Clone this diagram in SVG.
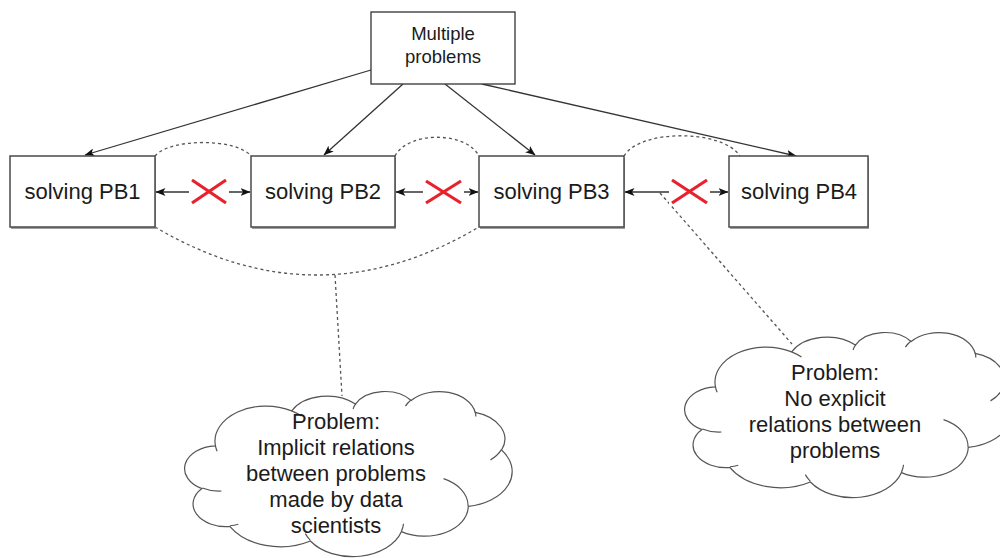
<svg xmlns="http://www.w3.org/2000/svg" width="1000" height="558" viewBox="0 0 1000 558">
  <style>
    .box{fill:#fff;stroke:#4a4a4a;stroke-width:1.5}
    .top{fill:#fff;stroke:#333;stroke-width:1.3}
    .shadow{fill:#a0a0a0}
    .lbl{font-family:"Liberation Sans",Arial,sans-serif;fill:#1b1b1b;text-anchor:middle}
    .edge{fill:none;stroke:#333;stroke-width:1.3}
    .dash{fill:none;stroke:#555;stroke-width:1.3;stroke-dasharray:3 3}
    .cross{stroke:#e8222c;stroke-width:3.2}
  </style>
  <defs>
    <marker id="arrow" viewBox="0 0 10 8" refX="9.5" refY="4" markerWidth="10" markerHeight="8" markerUnits="userSpaceOnUse" orient="auto-start-reverse">
      <path d="M0,0 L10,4 L0,8 L2.5,4 Z" fill="#111"/>
    </marker>
    <!-- cloud outline (326 x 166 box) with its inner curls -->
    <g id="cloud">
      <path fill="#fff" stroke="#555" stroke-width="1.2" d="M29.43,54.88 A50.96,35.10 0 0 1 105.69,19.87 A40.24,27.76 0 0 1 169.46,13.11 A32.94,22.71 0 0 1 225.13,9.48 A36.65,25.19 0 0 1 289.16,21.30 A40.24,27.78 0 0 1 315.57,59.05 A51.13,35.21 0 0 1 282.26,115.36 A43.66,30.05 0 0 1 215.49,140.61 A50.95,35.20 0 0 1 124.37,149.97 A58.26,40.27 0 0 1 43.80,135.48 A32.90,22.60 0 0 1 15.94,97.59 A32.79,22.71 0 0 1 29.43,54.88 Z"/>
      <path fill="none" stroke="#555" stroke-width="1.2" d="M35.42,99.98 A32.79,22.71 0 0 1 16.30,96.94 M52.28,133.29 A32.90,22.60 0 0 1 43.92,134.75 M124.35,149.30 A50.95,35.20 0 0 1 119.31,142.65 M217.54,132.73 A50.95,35.20 0 0 1 215.53,140.02 M257.55,87.67 A43.66,30.05 0 0 1 282.08,114.92 M315.42,58.64 A40.24,27.78 0 0 1 304.49,68.86 M289.20,20.72 A36.65,25.19 0 0 1 289.78,25.55 M219.43,15.09 A36.65,25.19 0 0 1 225.03,8.93 M167.08,18.03 A32.94,22.71 0 0 1 169.79,12.72 M105.65,19.83 A50.96,35.10 0 0 1 115.46,24.98 M31.14,60.30 A50.96,35.10 0 0 1 29.43,54.89"/>
    </g>
  </defs>

  <!-- connectors -->
  <g id="connectors">
    <line class="edge" x1="371" y1="70" x2="85" y2="155" marker-end="url(#arrow)"/>
    <line class="edge" x1="403" y1="84" x2="324" y2="155" marker-end="url(#arrow)"/>
    <line class="edge" x1="445" y1="84" x2="535" y2="155" marker-end="url(#arrow)"/>
    <line class="edge" x1="482" y1="84" x2="796" y2="156" marker-end="url(#arrow)"/>

    <line class="edge" x1="156" y1="192" x2="250" y2="192" marker-start="url(#arrow)" marker-end="url(#arrow)"/>
    <line class="edge" x1="396" y1="192" x2="478" y2="192" marker-start="url(#arrow)" marker-end="url(#arrow)"/>
    <line class="edge" x1="625" y1="192" x2="728" y2="192" marker-start="url(#arrow)" marker-end="url(#arrow)"/>

    <path class="dash" d="M155,156 C170,138 236,138 251,156"/>
    <path class="dash" d="M395,156 C408,131 466,131 479,156"/>
    <path class="dash" d="M624,156 C640,129 722,129 740,156"/>
    <path class="dash" d="M155,227 Q317,323 479,227"/>
    <path class="dash" d="M335,275 L342,396"/>
    <path class="dash" d="M660,193 L792,344"/>
  </g>

  <!-- "no relation" crosses -->
  <g id="crosses">
    <rect x="189" y="179" width="40" height="26" fill="#fff"/>
    <line class="cross" x1="192" y1="180" x2="226" y2="203"/>
    <line class="cross" x1="192" y1="203" x2="226" y2="180"/>
    <rect x="423" y="179" width="41" height="26" fill="#fff"/>
    <line class="cross" x1="426" y1="181" x2="461" y2="203"/>
    <line class="cross" x1="426" y1="203" x2="461" y2="181"/>
    <rect x="669" y="179" width="41" height="26" fill="#fff"/>
    <line class="cross" x1="672" y1="180" x2="707" y2="203"/>
    <line class="cross" x1="672" y1="203" x2="707" y2="180"/>
  </g>

  <g id="multiple-problems">
    <rect class="top" x="371" y="12" width="144" height="72"/>
    <text class="lbl" x="443" y="40" font-size="18.5">Multiple</text>
    <text class="lbl" x="443" y="63" font-size="18.5">problems</text>
  </g>

  <g id="pb1">
    <rect class="shadow" x="11" y="158" width="145" height="71"/>
    <rect class="box" x="10" y="156" width="145" height="71"/>
    <text class="lbl" x="82.5" y="199" font-size="22">solving PB1</text>
  </g>
  <g id="pb2">
    <rect class="shadow" x="252" y="158" width="144" height="71"/>
    <rect class="box" x="251" y="156" width="144" height="71"/>
    <text class="lbl" x="323" y="199" font-size="22">solving PB2</text>
  </g>
  <g id="pb3">
    <rect class="shadow" x="480" y="158" width="145" height="71"/>
    <rect class="box" x="479" y="156" width="145" height="71"/>
    <text class="lbl" x="551.5" y="199" font-size="22">solving PB3</text>
  </g>
  <g id="pb4">
    <rect class="shadow" x="730" y="158" width="139" height="71"/>
    <rect class="box" x="729" y="156" width="139" height="71"/>
    <text class="lbl" x="799" y="199" font-size="22">solving PB4</text>
  </g>

  <g id="cloud-implicit">
    <use href="#cloud" transform="translate(186,391)"/>
    <text class="lbl" x="336" y="429" font-size="22">Problem:</text>
    <text class="lbl" x="336" y="455" font-size="22">Implicit relations</text>
    <text class="lbl" x="336" y="481" font-size="22">between problems</text>
    <text class="lbl" x="336" y="507" font-size="22">made by data</text>
    <text class="lbl" x="336" y="533" font-size="22">scientists</text>
  </g>

  <g id="cloud-no-explicit">
    <use href="#cloud" transform="translate(686,332)"/>
    <text class="lbl" x="835" y="380" font-size="22">Problem:</text>
    <text class="lbl" x="835" y="406" font-size="22">No explicit</text>
    <text class="lbl" x="835" y="432" font-size="22">relations between</text>
    <text class="lbl" x="835" y="458" font-size="22">problems</text>
  </g>
</svg>
